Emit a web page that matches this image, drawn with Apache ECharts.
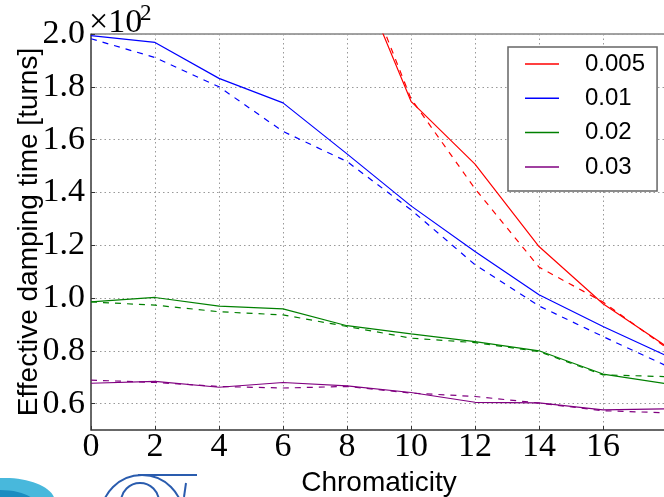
<!DOCTYPE html>
<html>
<head>
<meta charset="utf-8">
<script src="https://cdn.jsdelivr.net/npm/echarts@6/dist/echarts.min.js"></script>
<style>
  html, body { margin: 0; padding: 0; background: #fff; }
  #chart { width: 664px; height: 497px; }
</style>
</head>
<body>
<div id="chart"></div>
<script>
// Chromaticity scan points
const chroma = [0, 2, 4, 6, 8, 10, 12, 14, 16, 18];
const chromaRed = [8, 10, 12, 14, 16, 18];

// Effective damping time [turns], solid and dashed cases per setting
const series005Solid  = [233.0, 174.5, 150.7, 119.5, 97.8, 81.5];
const series005Dashed = [237.0, 175.5, 141.4, 111.7, 98.5, 81.0];
const series01Solid   = [199.4, 196.8, 183.2, 173.9, 154.6, 134.9, 117.6, 101.2, 89.2, 78.0];
const series01Dashed  = [198.2, 191.1, 180.0, 163.1, 151.7, 133.4, 112.6, 97.0, 85.4, 74.2];
const series02Solid   = [98.5, 100.2, 96.9, 95.9, 89.5, 86.4, 83.5, 80.0, 71.2, 67.5];
const series02Dashed  = [98.5, 97.3, 94.8, 93.6, 89.2, 84.8, 83.1, 79.7, 70.9, 70.2];
const series03Solid   = [67.7, 68.4, 66.2, 68.0, 66.7, 64.2, 60.5, 60.3, 57.6, 58.0];
const series03Dashed  = [68.9, 68.0, 66.5, 65.9, 66.5, 64.0, 62.7, 60.2, 57.3, 56.5];

const legendNames = ['0.005', '0.01', '0.02', '0.03'];
const colors = ['#ff0000', '#0000ff', '#008000', '#800080'];

const pairs = (xs, ys) => ys.map((v, i) => [xs[i], v]);

function line(name, xs, ys, color, dashed) {
  return {
    name: name,
    type: 'line',
    data: pairs(xs, ys),
    symbol: 'none',
    clip: true,
    silent: true,
    lineStyle: { color: color, width: 1.2, type: dashed ? [6, 6] : 'solid' },
    itemStyle: { color: color },
    z: dashed ? 3 : 4
  };
}

const serifFont = 'Liberation Serif';
const sansFont = 'Liberation Sans';

const chart = echarts.init(document.getElementById('chart'), null, { renderer: 'canvas' });

chart.setOption({
  animation: false,
  backgroundColor: '#fff',
  grid: {
    left: 91, top: 34, right: -3, bottom: 67,
    containLabel: false,
    outerBoundsMode: 'none',
    show: true, borderColor: '#444', borderWidth: 1, backgroundColor: 'transparent'
  },
  legend: {
    data: legendNames,
    orient: 'vertical',
    left: 508, top: 47,
    icon: 'rect',
    itemWidth: 34, itemHeight: 1.5, itemGap: 10.3,
    padding: [5, 12, 12, 17],
    backgroundColor: '#fff',
    borderColor: '#666', borderWidth: 1.5, borderRadius: 0,
    textStyle: { fontFamily: sansFont, fontSize: 24, lineHeight: 24, color: '#000', padding: [0, 0, 0, 21] },
    selectedMode: false
  },
  xAxis: {
    type: 'value',
    min: 0, max: 18, interval: 2,
    name: 'Chromaticity',
    nameLocation: 'middle',
    nameGap: 39,
    nameMoveOverlap: false,
    nameTextStyle: { fontFamily: sansFont, fontSize: 28, color: '#000' },
    axisLine: { show: true, lineStyle: { color: '#555', width: 1.5 } },
    axisTick: { show: true, inside: true, length: 4, lineStyle: { color: '#333' } },
    axisLabel: {
      fontFamily: serifFont, fontSize: 34, color: '#000', margin: 0,
      showMaxLabel: false
    },
    splitLine: { show: true, lineStyle: { color: '#999', width: 1, type: [1.5, 3] } }
  },
  yAxis: {
    type: 'value',
    min: 50, max: 200, splitNumber: 7,
    name: 'Effective damping time [turns]',
    nameLocation: 'middle',
    nameGap: 48,
    nameMoveOverlap: false,
    nameTextStyle: { fontFamily: sansFont, fontSize: 28, color: '#000' },
    axisLine: { show: true, lineStyle: { color: '#555', width: 1.5 } },
    axisTick: { show: true, inside: true, length: 4, lineStyle: { color: '#333' } },
    axisLabel: {
      fontFamily: serifFont, fontSize: 34, color: '#000', margin: 6,
      showMinLabel: false,
      formatter: v => (v / 100).toFixed(1)
    },
    splitLine: { show: true, lineStyle: { color: '#999', width: 1, type: [1.5, 3] } }
  },
  graphic: [
    // axis multiplier
    { type: 'text', left: 89, top: 6, z: 10,
      style: { text: '×10', font: '34px "Liberation Serif"', fill: '#000' } },
    { type: 'text', left: 140, top: 2, z: 10,
      style: { text: '2', font: '23px "Liberation Serif"', fill: '#000' } },
    // logos at the lower left corner
    { type: 'ellipse', z: 0, shape: { cx: 5, cy: 502, rx: 50, ry: 24 },
      style: { fill: '#48b8dc' } },
    { type: 'ellipse', z: 0, shape: { cx: 0, cy: 505, rx: 36, ry: 15 },
      style: { fill: '#1b8cc0' } },
    { type: 'circle', z: 0, shape: { cx: 142, cy: 516, r: 41 },
      style: { fill: 'none', stroke: '#2a5cae', lineWidth: 2 } },
    { type: 'circle', z: 0, shape: { cx: 140, cy: 502, r: 19 },
      style: { fill: 'none', stroke: '#2a5cae', lineWidth: 2 } },
    { type: 'line', z: 0, shape: { x1: 138, y1: 475, x2: 197, y2: 475 },
      style: { stroke: '#2a5cae', lineWidth: 2 } },
    { type: 'line', z: 0, shape: { x1: 186, y1: 483, x2: 184, y2: 497 },
      style: { stroke: '#2a5cae', lineWidth: 2 } }
  ],
  series: [
    line('0.005', chromaRed, series005Solid, colors[0], false),
    line('0.01', chroma, series01Solid, colors[1], false),
    line('0.02', chroma, series02Solid, colors[2], false),
    line('0.03', chroma, series03Solid, colors[3], false),
    line('0.005 dashed', chromaRed, series005Dashed, colors[0], true),
    line('0.01 dashed', chroma, series01Dashed, colors[1], true),
    line('0.02 dashed', chroma, series02Dashed, colors[2], true),
    line('0.03 dashed', chroma, series03Dashed, colors[3], true)
  ]
});
</script>
</body>
</html>
